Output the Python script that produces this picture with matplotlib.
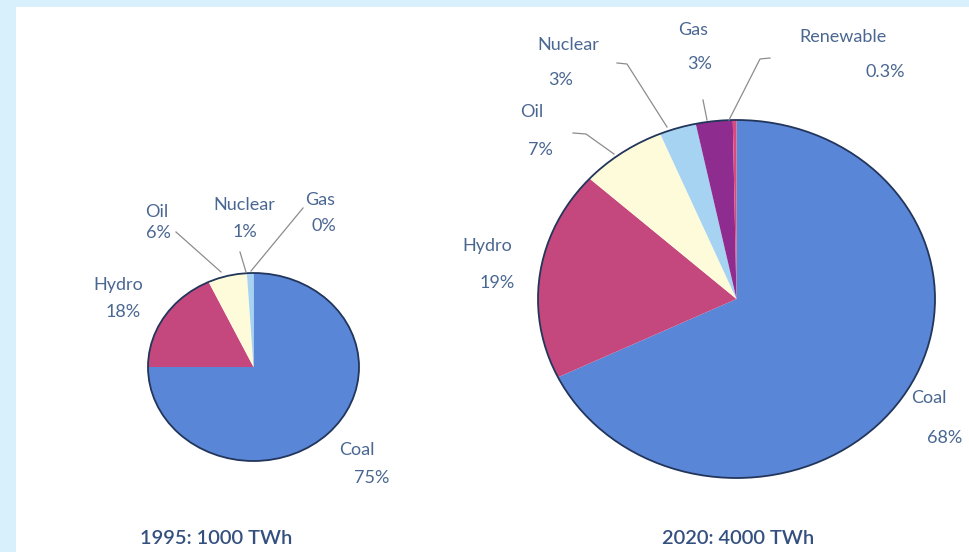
import numpy as np
import matplotlib
matplotlib.use("Agg")
import matplotlib.pyplot as plt
from matplotlib.patches import Rectangle, Circle

plt.rcParams['font.family'] = ['Lato', 'DejaVu Sans']

# Data
sources_1995 = ["Coal", "Hydro", "Oil", "Nuclear", "Gas"]
share_1995 = [75, 18, 6, 1, 0]
sources_2020 = ["Coal", "Hydro", "Oil", "Nuclear", "Gas", "Renewable"]
share_2020 = [68, 19, 7, 3, 3, 0.3]
pct_1995 = ["75%", "18%", "6%", "1%", "0%"]
pct_2020 = ["68%", "19%", "7%", "3%", "3%", "0.3%"]
titles = ["1995: 1000 TWh", "2020: 4000 TWh"]

colors = {"Coal": "#5a86d8", "Hydro": "#c4487e", "Oil": "#fdfbd9",
          "Nuclear": "#a6d3f2", "Gas": "#8e2d8f", "Renewable": "#dc4a7c"}
txt_col = "#4a6792"
W, H = 969, 552

fig = plt.figure(figsize=(W / 100, H / 100), dpi=100)
fig.patch.set_facecolor("#d8effc")

bg = fig.add_axes([0, 0, 1, 1], zorder=0)
bg.set_xlim(0, W)
bg.set_ylim(H, 0)
bg.axis("off")
bg.add_patch(Rectangle((16, 7), W - 16, H - 7, facecolor="white", edgecolor="none"))


def draw_pie(values, names, cx, cy, rx, ry):
    m = 1.05
    ax = fig.add_axes([(cx - rx * m) / W, 1 - (cy + ry * m) / H, 2 * rx * m / W, 2 * ry * m / H], zorder=1)
    ax.pie(values, colors=[colors[n] for n in names], startangle=90, counterclock=False,
           wedgeprops=dict(linewidth=0))
    ax.add_patch(Circle((0, 0), 1, fill=False, edgecolor="#22355a", linewidth=1.3))
    ax.set_aspect("auto")
    ax.set_xlim(-m, m)
    ax.set_ylim(-m, m)
    ax.axis("off")


draw_pie(share_1995, sources_1995, 253.5, 367, 105.5, 94)
draw_pie(share_2020, sources_2020, 736.5, 299, 198.5, 179)

ov = fig.add_axes([0, 0, 1, 1], zorder=3)
ov.set_xlim(0, W)
ov.set_ylim(H, 0)
ov.axis("off")
ov.patch.set_alpha(0)

fs = 13
# 1995 labels: name pos, pct pos
lab_1995 = {"Coal": ((357, 450), (372, 478)), "Hydro": ((118, 285), (123, 312)),
            "Oil": ((157, 212), (158, 233)), "Nuclear": ((244, 205), (245, 232)),
            "Gas": ((320, 200), (324, 226))}
for n, p in zip(sources_1995, pct_1995):
    (x1, y1), (x2, y2) = lab_1995[n]
    ov.text(x1, y1, n, ha="center", va="center", fontsize=fs, color=txt_col)
    ov.text(x2, y2, p, ha="center", va="center", fontsize=fs, color=txt_col)

lab_2020 = {"Coal": ((929, 398), (945, 438)), "Hydro": ((487, 246), (497, 283)),
            "Oil": ((532, 112), (540, 150)), "Nuclear": ((568, 45), (561, 80)),
            "Gas": ((693, 30), (700, 64)), "Renewable": ((843, 37), (885, 72))}
for n, p in zip(sources_2020, pct_2020):
    (x1, y1), (x2, y2) = lab_2020[n]
    ov.text(x1, y1, n, ha="center", va="center", fontsize=fs, color=txt_col)
    ov.text(x2, y2, p, ha="center", va="center", fontsize=fs, color=txt_col)

# leader lines
leaders = [
    [(176, 232), (221, 272)],
    [(240, 252), (246, 272)],
    [(303, 208), (251, 271)],
    [(573, 133), (586, 134), (614, 154)],
    [(617, 63), (627, 64), (667, 127)],
    [(703, 100), (707, 120)],
    [(770, 58), (760, 59), (729, 120)],
]
for pts in leaders:
    xs, ys = zip(*pts)
    ov.plot(xs, ys, color="#8c8c8c", linewidth=0.9)

ov.text(216, 538, titles[0], ha="center", va="center", fontsize=14.5, fontweight="semibold", color="#34507f")
ov.text(738, 538, titles[1], ha="center", va="center", fontsize=14.5, fontweight="semibold", color="#34507f")

fig.savefig("out.png", dpi=100, facecolor=fig.get_facecolor())
